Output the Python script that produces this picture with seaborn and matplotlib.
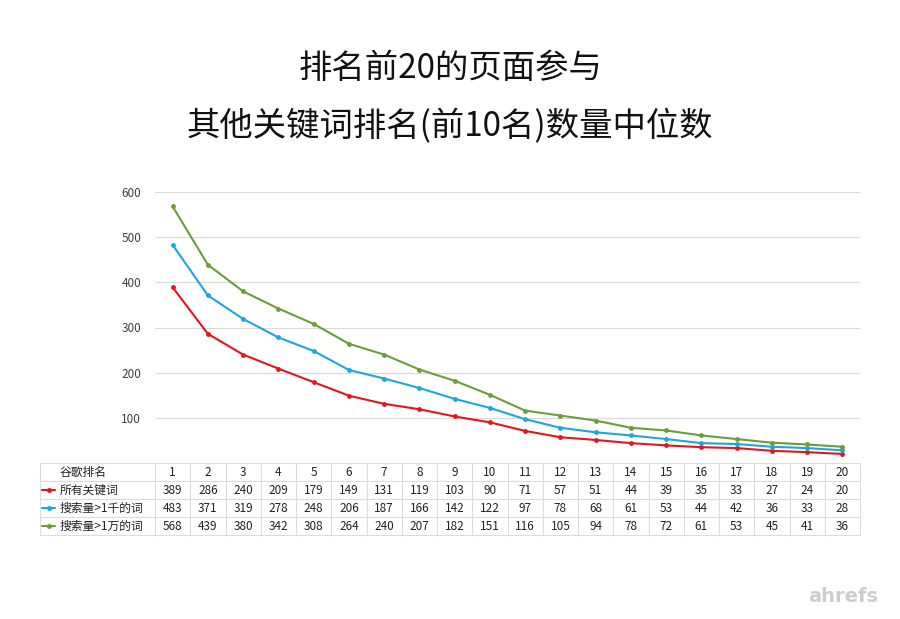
import pandas as pd
import matplotlib.pyplot as plt
import seaborn as sns
from matplotlib.lines import Line2D

# 谷歌排名 1~20
ranks = list(range(1, 21))
series_names = ['所有关键词', '搜索量>1千的词', '搜索量>1万的词']
all_kw = [389, 286, 240, 209, 179, 149, 131, 119, 103, 90, 71, 57, 51, 44, 39, 35, 33, 27, 24, 20]
kw_1k = [483, 371, 319, 278, 248, 206, 187, 166, 142, 122, 97, 78, 68, 61, 53, 44, 42, 36, 33, 28]
kw_10k = [568, 439, 380, 342, 308, 264, 240, 207, 182, 151, 116, 105, 94, 78, 72, 61, 53, 45, 41, 36]
colors = ['#e8141b', '#1ca7dd', '#6a9e3a']
yticks = [100, 200, 300, 400, 500, 600]

sns.set_style('white')
plt.rcParams['font.family'] = ['Noto Sans CJK SC', 'DejaVu Sans']

df = pd.DataFrame({
    'rank': ranks * 3,
    'value': all_kw + kw_1k + kw_10k,
    'series': [s for s in series_names for _ in ranks],
})

fig = plt.figure(figsize=(9, 6.19), dpi=100)
ax = fig.add_axes([155 / 900, 1 - 463 / 619, 705 / 900, 271 / 619])

sns.lineplot(data=df, x='rank', y='value', hue='series', palette=colors,
             marker='o', markersize=3.5, markeredgewidth=0, linewidth=1.5,
             legend=False, ax=ax)

ax.set_xlim(0.5, 20.5)
ax.set_ylim(0, 600)
ax.set_yticks(yticks)
ax.set_xticks([])
ax.set_xlabel('')
ax.set_ylabel('')
ax.yaxis.grid(True, color='#d9d9d9', linewidth=0.8)
ax.tick_params(axis='y', length=0, labelsize=8.5, labelcolor='#404040', pad=10)
for sp in ax.spines.values():
    sp.set_visible(False)

# 数据表
cell_text = [['谷歌排名'] + [str(r) for r in ranks]]
for name, vals in zip(series_names, [all_kw, kw_1k, kw_10k]):
    cell_text.append([name] + [str(v) for v in vals])

total_w = 820
col_w = [115 / total_w] + [35.25 / total_w] * 20
tbl = ax.table(cellText=cell_text, colWidths=col_w, cellLoc='center',
               bbox=[-115 / 705, -72 / 271, 820 / 705, 72 / 271])
tbl.auto_set_font_size(False)
tbl.set_fontsize(8.5)
for (r, c), cell in tbl.get_celld().items():
    cell.set_edgecolor('#dcdcdc')
    cell.set_linewidth(0.8)
    cell.get_text().set_color('#222222')
    if c == 0:
        cell.PAD = 0.17
        cell.get_text().set_ha('left')
        cell._loc = 'left'

# 图例线条
for i, col in enumerate(colors):
    yc = -(18 * (i + 1) + 9) / 271
    ax.add_line(Line2D([-113 / 705, -100 / 705], [yc, yc], color=col, linewidth=1.5,
                       transform=ax.transAxes, clip_on=False))
    ax.add_line(Line2D([-106.5 / 705], [yc], color=col, marker='o', markersize=2.5,
                       transform=ax.transAxes, clip_on=False))

fig.text(0.5, 1 - 68 / 619, '排名前20的页面参与', ha='center', va='center',
         fontsize=24, fontweight='medium', color='#111111')
fig.text(0.5, 1 - 127 / 619, '其他关键词排名(前10名)数量中位数', ha='center', va='center',
         fontsize=24, fontweight='medium', color='#111111')
fig.text(843 / 900, 1 - 596 / 619, 'ahrefs', ha='center', va='center',
         fontsize=14, fontweight='bold', color='#cccccc', family=['DejaVu Sans'])

plt.savefig('out.png', dpi=100)
